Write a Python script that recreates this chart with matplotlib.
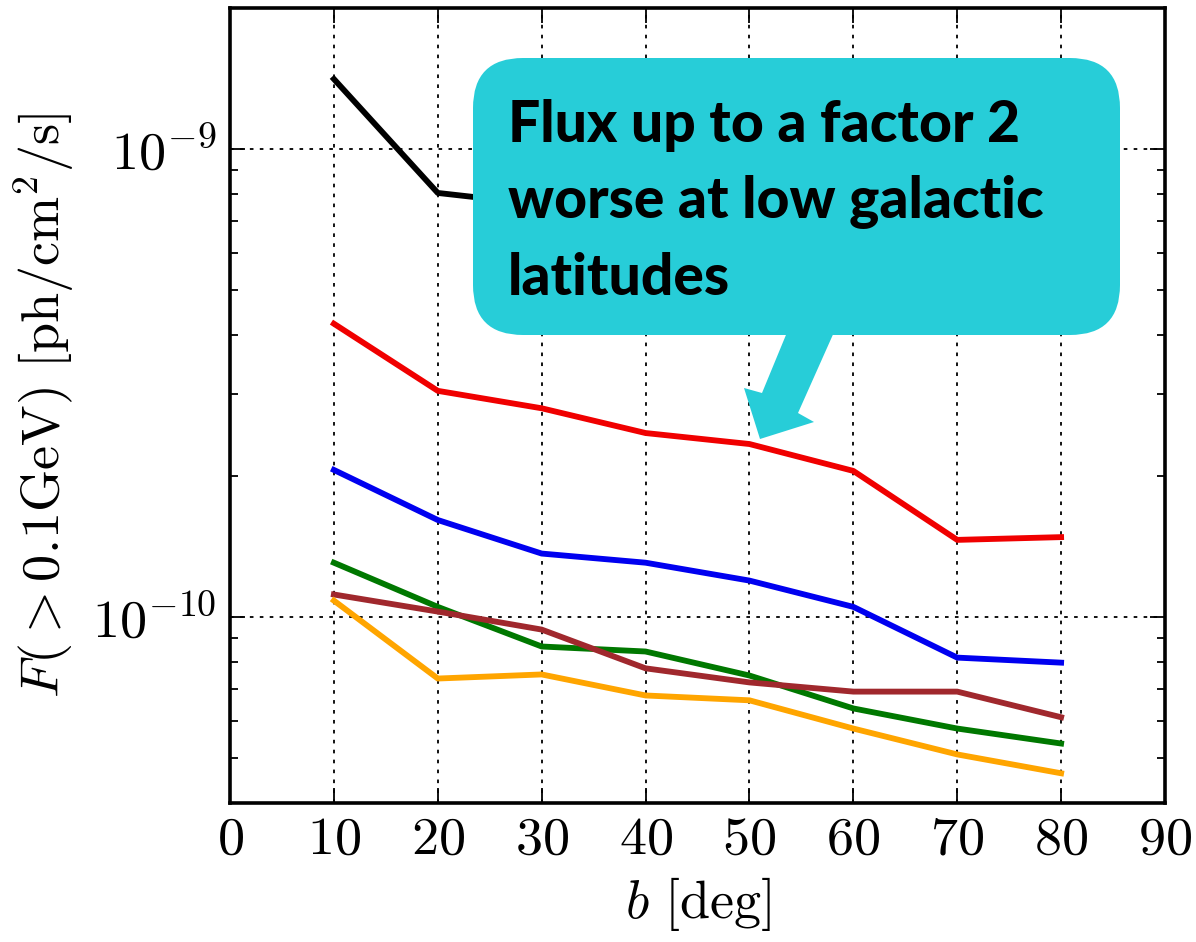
import matplotlib
matplotlib.use("Agg")
import matplotlib.pyplot as plt
import numpy as np
from matplotlib.patches import FancyBboxPatch, Polygon
from matplotlib.ticker import FuncFormatter, LogLocator, MultipleLocator, NullFormatter

plt.rcParams["mathtext.fontset"] = "cm"
plt.rcParams["font.family"] = "serif"
plt.rcParams["font.serif"] = ["cmr10", "DejaVu Serif"]

# ---------------------------------------------------------------------------
# data: sensitivity flux vs galactic latitude, one curve per configuration
# ---------------------------------------------------------------------------
b_deg = [10, 20, 30, 40, 50, 60, 70, 80]

flux_black = [1.41e-9, 8.05e-10, 7.6e-10, 6.8e-10, 6.4e-10, 5.6e-10, 4.7e-10, 4.7e-10]
flux_red = [4.23e-10, 3.04e-10, 2.79e-10, 2.47e-10, 2.34e-10, 2.05e-10, 1.46e-10, 1.48e-10]
flux_blue = [2.06e-10, 1.61e-10, 1.365e-10, 1.305e-10, 1.195e-10, 1.05e-10, 8.18e-11, 7.98e-11]
flux_green = [1.305e-10, 1.05e-10, 8.64e-11, 8.43e-11, 7.49e-11, 6.37e-11, 5.77e-11, 5.36e-11]
flux_brown = [1.116e-10, 1.026e-10, 9.39e-11, 7.76e-11, 7.24e-11, 6.92e-11, 6.92e-11, 6.10e-11]
flux_orange = [1.083e-10, 7.38e-11, 7.53e-11, 6.79e-11, 6.63e-11, 5.77e-11, 5.08e-11, 4.63e-11]

SERIES = [
    (flux_black, "black"),
    (flux_red, "#f00000"),
    (flux_blue, "#0000f0"),
    (flux_green, "#007800"),
    (flux_brown, "#a0282d"),
    (flux_orange, "#ffa500"),
]

CALLOUT_LINES = ["Flux up to a factor 2", "worse at low galactic", "latitudes"]
CALLOUT_COLOR = "#27cdd8"

W, H = 1196, 942


def px(x, y):
    """top-left pixel coords -> inches from bottom-left (for dpi_scale_trans)."""
    return x / 100.0, (H - y) / 100.0


fig = plt.figure(figsize=(W / 100, H / 100), dpi=100)
fig.patch.set_facecolor("white")
ax = fig.add_axes([230 / W, 1 - 803 / H, 935 / W, 795 / H])

for vals, col in SERIES:
    ax.plot(b_deg, vals, color=col, lw=4.2, solid_joinstyle="round", zorder=3)

ax.set_yscale("log")
ax.set_xlim(0, 90)
ax.set_ylim(4e-11, 2e-9)

ax.xaxis.set_major_locator(MultipleLocator(10))
ax.xaxis.set_major_formatter(FuncFormatter(lambda v, _: rf"${v:.0f}$"))
ax.yaxis.set_major_locator(LogLocator(base=10))
ax.yaxis.set_minor_locator(LogLocator(base=10, subs=np.arange(2, 10)))
ax.yaxis.set_minor_formatter(NullFormatter())
ax.yaxis.set_major_formatter(
    FuncFormatter(lambda v, _: rf"$10^{{{int(round(np.log10(v)))}}}$"))

ax.tick_params(which="both", direction="in", top=True, right=True,
               labelsize=39, width=1.3)
ax.tick_params(which="major", length=11, pad=10)
ax.tick_params(which="minor", length=6)
for sp in ax.spines.values():
    sp.set_linewidth(2.6)

ax.grid(True, which="major", color="k", linestyle=(0, (2, 3.5)), linewidth=1.3)

ax.set_xlabel(r"$b\ [\mathrm{deg}]$", fontsize=39, labelpad=8)
ax.set_ylabel(r"$F(>0.1\mathrm{GeV})\ [\mathrm{ph/cm^2/s}]$", fontsize=39)
ax.yaxis.set_label_coords(-0.165, 0.5)

# ---------------------------------------------------------------------------
# callout bubble
# ---------------------------------------------------------------------------
x0, y0 = px(473, 335)
box = FancyBboxPatch((x0, y0), 6.47, 2.77,
                     boxstyle="round,pad=0,rounding_size=0.5",
                     transform=fig.dpi_scale_trans, fc=CALLOUT_COLOR,
                     ec="none", zorder=10, clip_on=False)
ax.add_patch(box)

arrow_px = [(788, 330), (835, 330), (798, 413), (814, 422),
            (760, 439), (744, 388), (762, 393)]
arrow = Polygon([px(*p) for p in arrow_px], closed=True,
                transform=fig.dpi_scale_trans, fc=CALLOUT_COLOR, ec="none",
                zorder=10, clip_on=False)
ax.add_patch(arrow)

for line, base in zip(CALLOUT_LINES, [142, 218, 295]):
    tx, ty = px(508, base)
    ax.text(tx, ty, line, transform=fig.dpi_scale_trans,
            family=["Lato", "DejaVu Sans"], weight="black", fontsize=41,
            color="black", ha="left", va="baseline", zorder=11)

fig.savefig("out.png", dpi=100, facecolor="white")
